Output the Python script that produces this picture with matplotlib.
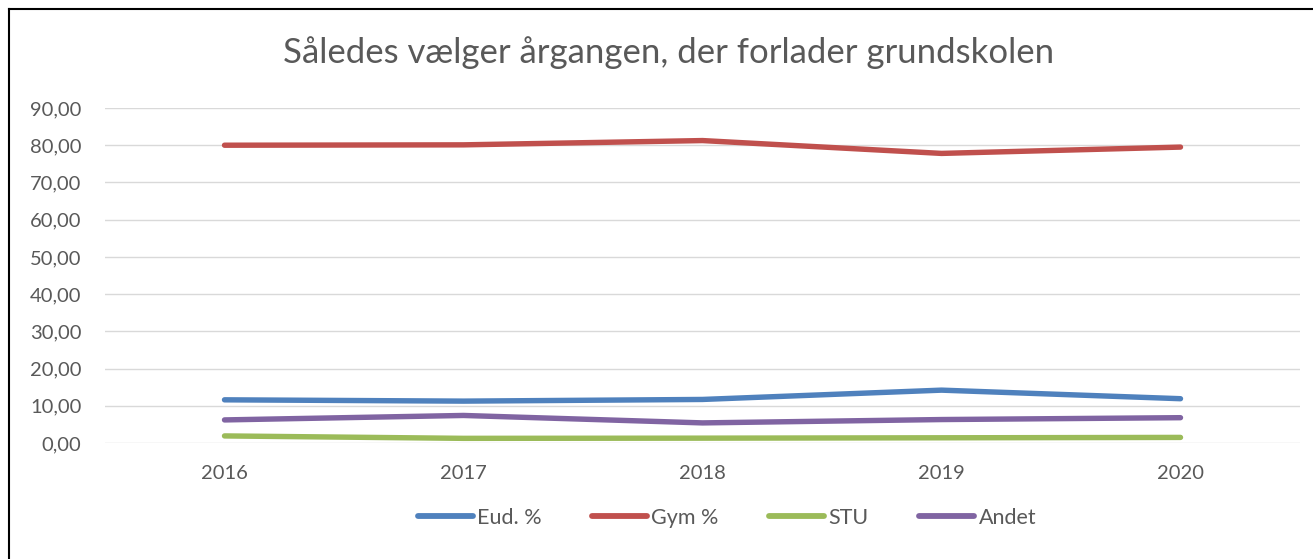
import matplotlib
matplotlib.use("Agg")
import matplotlib.pyplot as plt
from matplotlib.lines import Line2D
from matplotlib.ticker import FuncFormatter, MultipleLocator

years = ["2016", "2017", "2018", "2019", "2020"]
eud = [11.6, 11.25, 11.7, 14.2, 11.9]
gym = [80.0, 80.1, 81.25, 77.8, 79.5]
stu = [1.9, 1.25, 1.3, 1.4, 1.5]
andet = [6.2, 7.4, 5.4, 6.3, 6.8]
series_names = ["Eud. %", "Gym %", "STU", "Andet"]
colors = ["#4F81BD", "#C0504D", "#9BBB59", "#8064A2"]
title = "Således vælger årgangen, der forlader grundskolen"

plt.rcParams['font.family'] = ['Lato', 'DejaVu Sans']
txt = "#595959"

W, H = 1313, 559
fig = plt.figure(figsize=(W / 100, H / 100), dpi=100)
ax = fig.add_axes([105 / W, (H - 443) / H, (1300 - 105) / W, (443 - 108) / H])

x = list(range(len(years)))
for vals, name, c in zip([eud, gym, stu, andet], series_names, colors):
    ax.plot(x, vals, color=c, lw=3.9, solid_capstyle='round', solid_joinstyle='round', label=name, zorder=3)

ax.set_xlim(-0.5, len(years) - 0.5)
ax.set_ylim(0, 90)
ax.yaxis.set_major_locator(MultipleLocator(10))
ax.yaxis.set_major_formatter(FuncFormatter(lambda v, p: f"{v:.2f}".replace(".", ",")))
ax.set_xticks(x)
ax.set_xticklabels(years)
ax.grid(axis='y', color='#D9D9D9', lw=1.0, zorder=0)
for s in ax.spines.values():
    s.set_visible(False)
ax.tick_params(axis='both', length=0, labelsize=14.5, colors=txt)
ax.tick_params(axis='y', pad=17)
ax.tick_params(axis='x', pad=16)

fig.text(669 / W, 1 - 53 / H, title, ha='center', va='center', fontsize=25, color=txt)

leg = fig.legend(loc='center', bbox_to_anchor=(727 / W, 1 - 518 / H), ncol=4, frameon=False,
                 fontsize=15.5, handlelength=2.55, handletextpad=0.2, columnspacing=2.35)
for t in leg.get_texts():
    t.set_color(txt)
for h in leg.legend_handles:
    h.set_linewidth(4.2)
    h.set_solid_capstyle('round')

fig.add_artist(Line2D([9 / W, 9 / W], [0, 1 - 9 / H], transform=fig.transFigure, color='black', lw=1.5))
fig.add_artist(Line2D([9 / W, 1], [1 - 9 / H, 1 - 9 / H], transform=fig.transFigure, color='black', lw=1.5))

fig.savefig("out.png", dpi=100, facecolor='white')
